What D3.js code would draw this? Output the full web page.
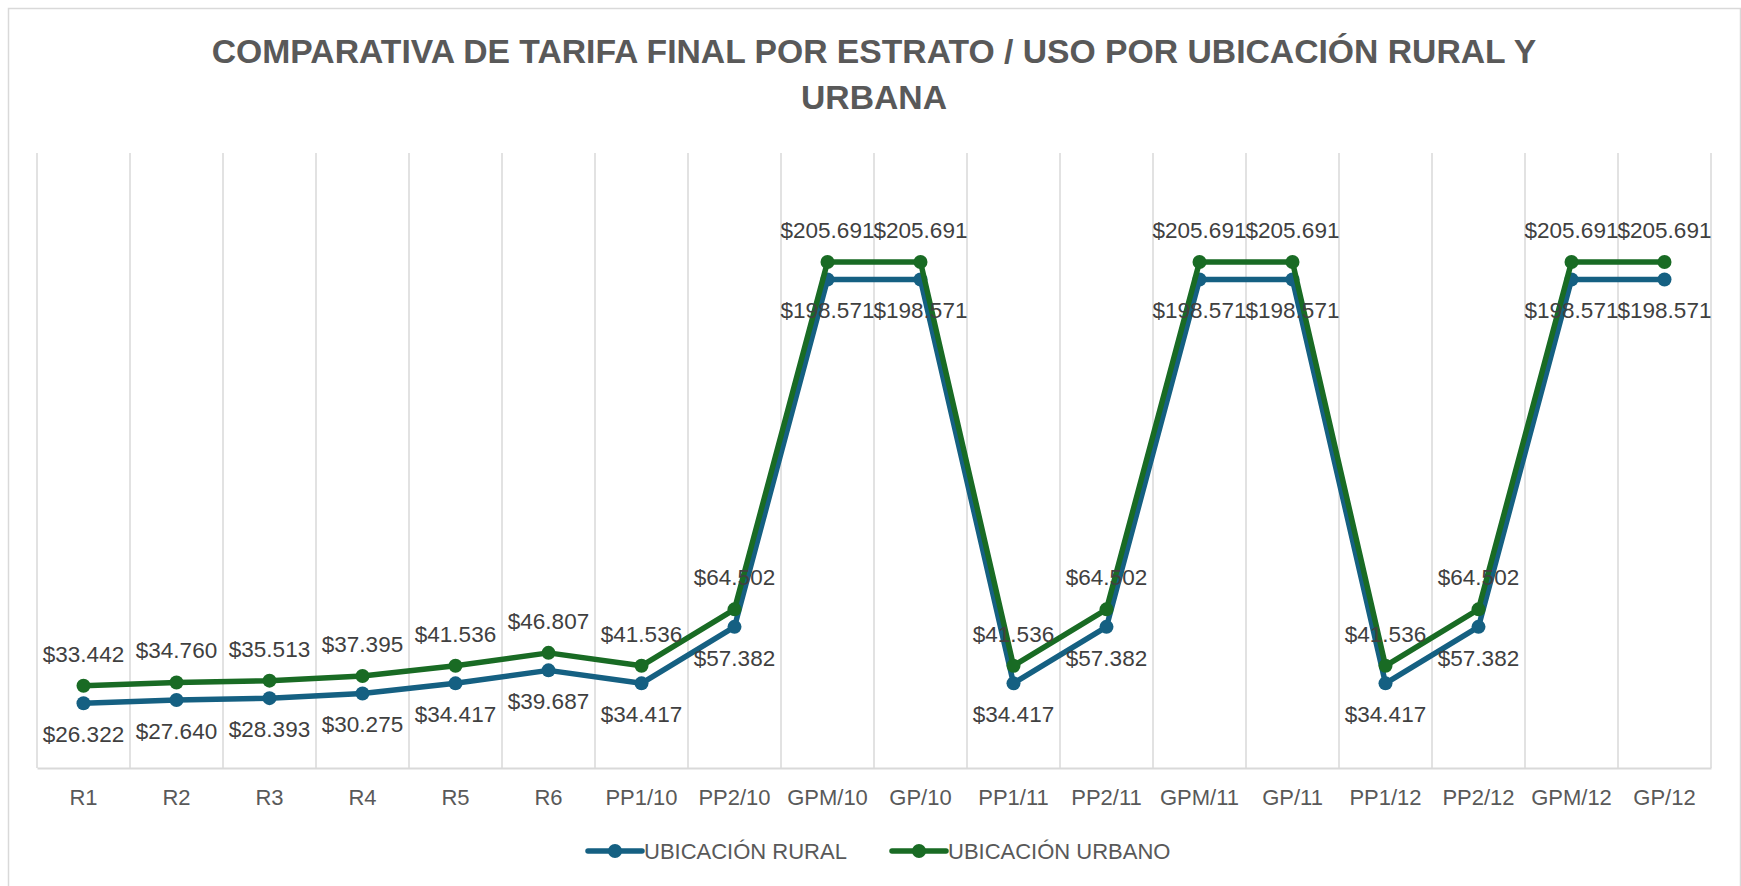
<!DOCTYPE html>
<html>
<head>
<meta charset="utf-8">
<script src="https://cdn.jsdelivr.net/npm/d3@7"></script>
<style>
  body{margin:0;background:#fff;}
  svg text{font-family:"Liberation Sans",Arial,sans-serif;}
</style>
</head>
<body>
<div id="chart"></div>
<script>
// -----------------------------------------------------------------------------
// DATA
// -----------------------------------------------------------------------------
var categories = ['R1','R2','R3','R4','R5','R6','PP1/10','PP2/10','GPM/10','GP/10',
  'PP1/11','PP2/11','GPM/11','GP/11','PP1/12','PP2/12','GPM/12','GP/12'];
var rural  = [26322,27640,28393,30275,34417,39687,34417,57382,198571,198571,
  34417,57382,198571,198571,34417,57382,198571,198571];
var urbano = [33442,34760,35513,37395,41536,46807,41536,64502,205691,205691,
  41536,64502,205691,205691,41536,64502,205691,205691];
var seriesNames = ['UBICACIÓN RURAL','UBICACIÓN URBANO'];
var titleLines  = ['COMPARATIVA DE TARIFA FINAL POR ESTRATO / USO POR UBICACIÓN RURAL Y','URBANA'];
var yMax = 250000;

// -----------------------------------------------------------------------------
// MAIN
// -----------------------------------------------------------------------------
var W = 1741, H = 886;
var colors = {rural:'#156082', urbano:'#196B24', grid:'#d9d9d9', text:'#404040', axis:'#595959'};
var m = {top:153, left:37, right:1711, bottom:768};
var es = d3.formatLocale({decimal:',',thousands:'.',grouping:[3],currency:['$','']});
var fmt = es.format('$,');

var svg = d3.select('#chart').append('svg').attr('width',W).attr('height',H);

// chart border
svg.append('rect').attr('x',8.5).attr('y',8.5).attr('width',W-9).attr('height',H)
  .attr('fill','none').attr('stroke',colors.grid).attr('stroke-width',1.5);

// title
svg.append('g').selectAll('text').data(titleLines).enter()
  .append('text').attr('x',874).attr('y',function(d,i){return 63+i*46;})
  .attr('text-anchor','middle').attr('fill','#595959')
  .style('font-size','33.7px').style('font-weight','bold')
  .text(function(d){return d;});

var x = d3.scaleBand().domain(categories).range([m.left,m.right]);
var y = d3.scaleLinear().domain([0,yMax]).range([m.bottom,m.top]);
var cx = function(c){return x(c)+x.bandwidth()/2;};

// vertical gridlines at category boundaries
var edges = categories.map(function(c){return x(c);}).concat([m.right]);
svg.append('g').selectAll('line').data(edges).enter()
  .append('line').attr('x1',function(d){return d;}).attr('x2',function(d){return d;})
  .attr('y1',m.top).attr('y2',m.bottom)
  .attr('stroke',colors.grid).attr('stroke-width',1.5);

// x axis
var xa = svg.append('g').attr('transform','translate(0,'+m.bottom+')')
  .call(d3.axisBottom(x).tickSize(0).tickPadding(30));
xa.select('.domain').attr('stroke',colors.grid).attr('stroke-width',2);
xa.selectAll('text').attr('fill',colors.axis).style('font-size','22px')
  .attr('dy','0.32em').attr('y',30);

// series
var series = [
  {name:seriesNames[0], values:rural,  color:colors.rural,  dy:31},
  {name:seriesNames[1], values:urbano, color:colors.urbano, dy:-32}
];
var line = d3.line().x(function(d,i){return cx(categories[i]);}).y(function(d){return y(d);});

series.forEach(function(s){
  var g = svg.append('g');
  g.append('path').datum(s.values).attr('d',line)
    .attr('fill','none').attr('stroke',s.color).attr('stroke-width',5.5)
    .attr('stroke-linejoin','round');
  g.selectAll('circle').data(s.values).enter()
    .append('circle').attr('cx',function(d,i){return cx(categories[i]);})
    .attr('cy',function(d){return y(d);}).attr('r',7).attr('fill',s.color);
});

// data labels (drawn after both lines so they sit on top)
series.forEach(function(s){
  svg.append('g').selectAll('text').data(s.values).enter()
    .append('text').attr('x',function(d,i){return cx(categories[i]);})
    .attr('y',function(d){return y(d)+s.dy;}).attr('dy','0.35em')
    .attr('text-anchor','middle').attr('fill',colors.text).style('font-size','22.5px')
    .text(function(d){return fmt(d);});
});

// legend
var legX = [588,892];
var leg = svg.append('g').selectAll('g').data(series).enter()
  .append('g').attr('transform',function(d,i){return 'translate('+legX[i]+',851)';});
leg.append('line').attr('x1',0).attr('x2',54).attr('stroke',function(d){return d.color;})
  .attr('stroke-width',5.5).attr('stroke-linecap','round');
leg.append('circle').attr('cx',27).attr('r',7).attr('fill',function(d){return d.color;});
leg.append('text').attr('x',56).attr('dy','0.35em').attr('fill',colors.axis)
  .style('font-size','22px').text(function(d){return d.name;});
</script>
</body>
</html>
